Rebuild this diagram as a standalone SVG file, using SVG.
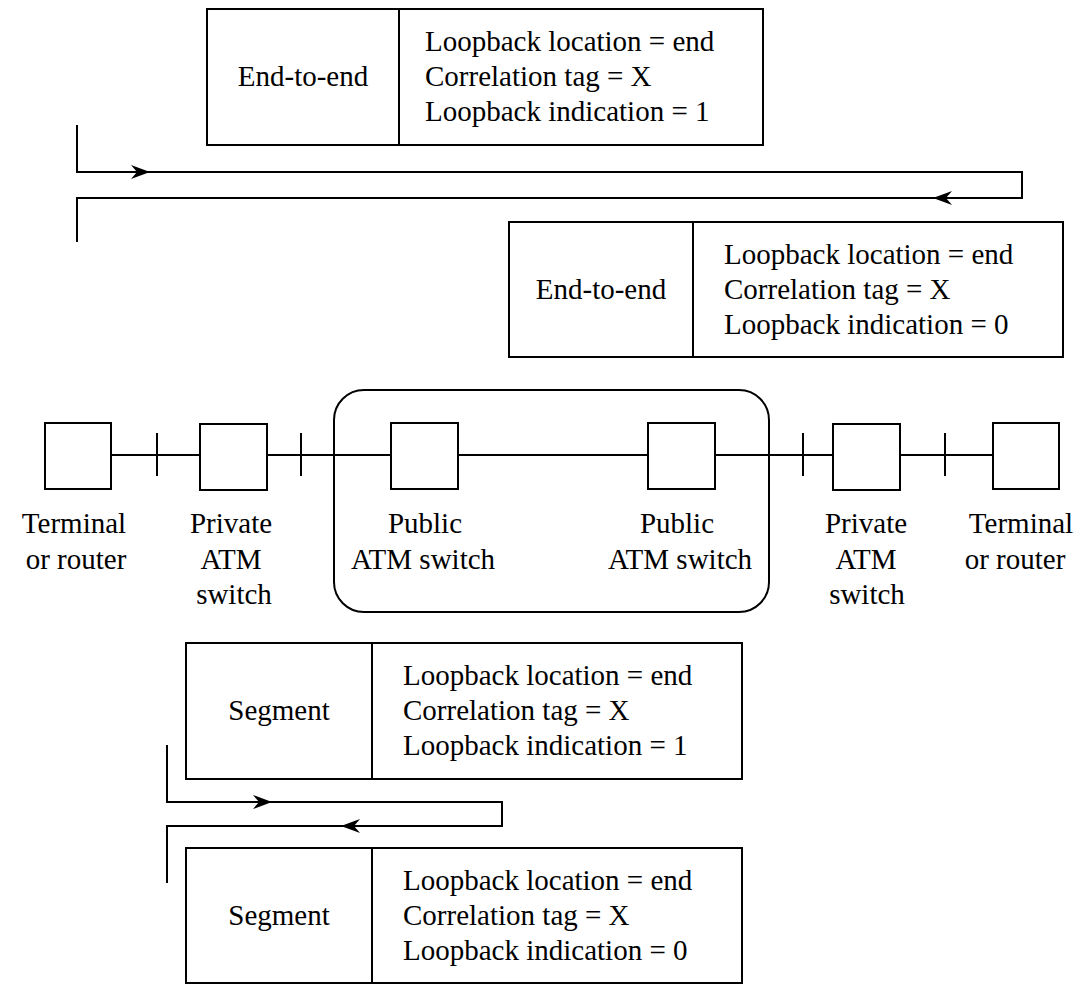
<svg xmlns="http://www.w3.org/2000/svg" xmlns:xlink="http://www.w3.org/1999/xlink" width="1083" height="986" viewBox="0 0 1083 986">
  <style>
    .box { fill: #fff; stroke: #000; stroke-width: 2; }
    .ln { fill: none; stroke: #000; stroke-width: 2; }
    .t { font-family: 'Liberation Serif', 'Times New Roman', serif; font-size: 29px; fill: #000; }
    .c { text-anchor: middle; }
  </style>
  <defs>
    <!-- notched arrowhead with its tip at the origin, pointing right -->
    <path id="head" d="M0,0 L-19,-7 L-13,0 L-19,7 Z" fill="#000"/>
  </defs>
  <rect width="1083" height="986" fill="#fff"/>

  <!-- loopback paths and network link -->
  <g id="connectors">
    <path class="ln" d="M77,125 V172 H1022 V198 H77 V242"/>
    <use xlink:href="#head" transform="translate(150,172)"/>
    <use xlink:href="#head" transform="translate(933,198) rotate(180)"/>

    <path class="ln" d="M167,745 V802 H502 V826 H167 V883"/>
    <use xlink:href="#head" transform="translate(272,802)"/>
    <use xlink:href="#head" transform="translate(341,826) rotate(180)"/>

    <path class="ln" d="M111,455 H993"/>
    <!-- interface markers -->
    <path class="ln" d="M157,433 V476 M301,433 V476 M803,433 V476 M945,433 V476"/>
  </g>

  <!-- end-to-end loopback cell (indication 1) -->
  <g id="cell-e2e-1">
    <rect class="box" x="207" y="9" width="556" height="136"/>
    <line class="ln" x1="399" y1="9" x2="399" y2="145"/>
    <text class="t c" x="303" y="86">End-to-end</text>
    <text class="t" x="425" y="51">Loopback location = end</text>
    <text class="t" x="425" y="86">Correlation tag = X</text>
    <text class="t" x="425" y="121">Loopback indication = 1</text>
  </g>

  <!-- end-to-end loopback cell (indication 0) -->
  <g id="cell-e2e-0">
    <rect class="box" x="509" y="222" width="554" height="135"/>
    <line class="ln" x1="693" y1="222" x2="693" y2="357"/>
    <text class="t c" x="601" y="299">End-to-end</text>
    <text class="t" x="724" y="264">Loopback location = end</text>
    <text class="t" x="724" y="299">Correlation tag = X</text>
    <text class="t" x="724" y="334">Loopback indication = 0</text>
  </g>

  <!-- public network boundary -->
  <g id="public-network">
    <rect class="ln" x="334" y="390" width="435" height="222" rx="30" ry="30"/>
  </g>

  <g id="terminal-left">
    <rect class="box" x="45" y="423" width="66" height="66"/>
    <text class="t c" x="74" y="533">Terminal</text>
    <text class="t c" x="76" y="569">or router</text>
  </g>

  <g id="private-left">
    <rect class="box" x="200" y="424" width="67" height="66"/>
    <text class="t c" x="231" y="533">Private</text>
    <text class="t c" x="231" y="569">ATM</text>
    <text class="t c" x="234" y="604">switch</text>
  </g>

  <g id="public-left">
    <rect class="box" x="391" y="423" width="67" height="66"/>
    <text class="t c" x="425" y="533">Public</text>
    <text class="t c" x="423" y="569">ATM switch</text>
  </g>

  <g id="public-right">
    <rect class="box" x="648" y="423" width="67" height="66"/>
    <text class="t c" x="677" y="533">Public</text>
    <text class="t c" x="680" y="569">ATM switch</text>
  </g>

  <g id="private-right">
    <rect class="box" x="833" y="424" width="67" height="66"/>
    <text class="t c" x="866" y="533">Private</text>
    <text class="t c" x="866" y="569">ATM</text>
    <text class="t c" x="867" y="604">switch</text>
  </g>

  <g id="terminal-right">
    <rect class="box" x="993" y="423" width="66" height="66"/>
    <text class="t c" x="1021" y="533">Terminal</text>
    <text class="t c" x="1015" y="569">or router</text>
  </g>

  <!-- segment loopback cell (indication 1) -->
  <g id="cell-seg-1">
    <rect class="box" x="186" y="643" width="556" height="136"/>
    <line class="ln" x1="372" y1="643" x2="372" y2="779"/>
    <text class="t c" x="279" y="720">Segment</text>
    <text class="t" x="403" y="685">Loopback location = end</text>
    <text class="t" x="403" y="720">Correlation tag = X</text>
    <text class="t" x="403" y="755">Loopback indication = 1</text>
  </g>

  <!-- segment loopback cell (indication 0) -->
  <g id="cell-seg-0">
    <rect class="box" x="186" y="848" width="556" height="135"/>
    <line class="ln" x1="372" y1="848" x2="372" y2="983"/>
    <text class="t c" x="279" y="925">Segment</text>
    <text class="t" x="403" y="890">Loopback location = end</text>
    <text class="t" x="403" y="925">Correlation tag = X</text>
    <text class="t" x="403" y="960">Loopback indication = 0</text>
  </g>
</svg>
